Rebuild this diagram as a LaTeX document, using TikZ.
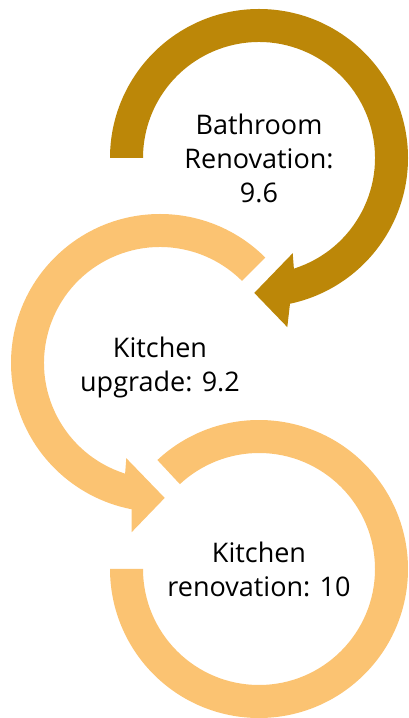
\documentclass[tikz,border=0pt]{standalone}
\usepackage{fontspec}
\setmainfont{Open Sans}[Ligatures=NoCommon]
\usetikzlibrary{calc}
\definecolor{ringdark}{RGB}{188,135,8}
\definecolor{ringlight}{RGB}{251,195,114}

\begin{document}
\begin{tikzpicture}[
    x=1pt, y=1pt,
    % Define styles for the ring segments and their labels
    darkring/.style={fill=ringdark, draw=none},
    lightring/.style={fill=ringlight, draw=none},
    ringlabel/.style={
        align=center,
        inner sep=0pt,
        text=black,
        font=\fontsize{27}{34}\selectfont
    }
]
\useasboundingbox (0,0) rectangle (408,718);

% --- Ring centres ---
\coordinate (bath) at (259,560);
\coordinate (upgrade) at (160,355);
\coordinate (reno) at (259,149);

% --- Rings ---
% Bathroom renovation: clockwise, arrow into the second ring
\fill[darkring] ($(bath)+(180:149)$) arc[start angle=180, end angle=-78, radius=149]
    -- ($(bath)+(-80.5:171.5)$) -- ($(bath)+(-92:135)$) -- ($(bath)+(-70.5:101)$)
    -- ($(bath)+(-72.5:116)$) arc[start angle=-72.5, end angle=180, radius=116] -- cycle;

% Kitchen upgrade: counter-clockwise, arrow into the third ring
\fill[lightring] ($(upgrade)+(45:149)$) arc[start angle=45, end angle=259, radius=149]
    -- ($(upgrade)+(-99.5:171.5)$) -- ($(upgrade)+(-88:135)$) -- ($(upgrade)+(-109.5:101)$)
    -- ($(upgrade)+(-107.5:116)$) arc[start angle=252.5, end angle=45, radius=116] -- cycle;

% Kitchen renovation: open ring, no arrow
\fill[lightring] ($(reno)+(133:149)$) arc[start angle=133, end angle=-180, radius=149]
    -- ($(reno)+(180:116)$) arc[start angle=-180, end angle=133, radius=116] -- cycle;

% --- Labels ---
\node[ringlabel] (bathtext) at (bath) {Bathroom\\Renovation:\\9.6};
\node[ringlabel] (upgradetext) at ($(upgrade)+(0,-4.5)$) {Kitchen\\upgrade: 9.2};
\node[ringlabel] (renotext) at (reno) {Kitchen\\renovation: 10};

\end{tikzpicture}
\end{document}
